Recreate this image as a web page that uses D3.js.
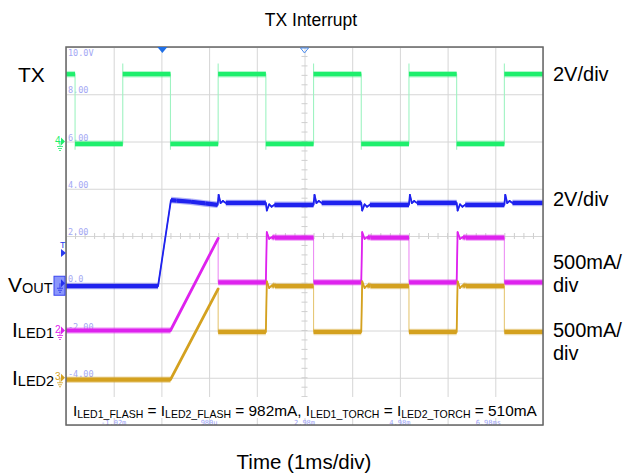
<!DOCTYPE html>
<html>
<head>
<meta charset="utf-8">
<script src="https://cdn.jsdelivr.net/npm/d3@7/dist/d3.min.js"></script>
<style>
  body { margin: 0; background: #fff; }
  text { font-family: "Liberation Sans", Arial, sans-serif; }
  .lvl { font-family: "DejaVu Sans Mono", monospace; }
</style>
</head>
<body>
<div id="chart"></div>
<script>
/* CONSTANTS AND GLOBALS */
const width = 628,
  height = 473,
  margin = {top: 47, bottom: 48, left: 66, right: 85};

// time axis of the scope, ms (10 div x 1ms)
const timeDomain = [-2.02, 7.98];
const gridTimes = [-2.02, -1.02, -0.02, 0.98, 1.98, 2.98, 3.98, 4.98, 5.98, 6.98, 7.98];
const timeLabels = ["-1.02m", "980u", "2.98m", "4.98m", "6.98ms"];
const timeLabelAt = [-1.02, 0.98, 2.98, 4.98, 6.98];

// vertical screen scale as printed on the scope (2 units / div)
const levelDomain = [-6, 10];
const gridLevels = [-6, -4, -2, 0, 2, 4, 6, 8, 10];
const levelLabels = ["-4.00", "-2.00", "0.0", "2.00", "4.00", "6.00", "8.00", "10.0V"];
const levelLabelAt = [-4, -2, 0, 2, 4, 6, 8, 10];

// TX (V), ch4
const txData = [
  [-2.02, 2.85], [-1.83, 2.85], [-1.83, -0.35], [-1.83, -0.1],
  [-0.83, -0.1], [-0.83, 3.3], [-0.83, 2.85],
  [0.17, 2.85], [0.17, -0.35], [0.17, -0.1],
  [1.17, -0.1], [1.17, 3.3], [1.17, 2.85],
  [2.17, 2.85], [2.17, -0.35], [2.17, -0.1],
  [3.17, -0.1], [3.17, 3.3], [3.17, 2.85],
  [4.17, 2.85], [4.17, -0.35], [4.17, -0.1],
  [5.17, -0.1], [5.17, 3.3], [5.17, 2.85],
  [6.17, 2.85], [6.17, -0.35], [6.17, -0.1],
  [7.17, -0.1], [7.17, 3.3], [7.17, 2.85],
  [7.98, 2.85]
];

// VOUT (V), ch1
const voutData = [
  [-2.02, -0.12], [-0.09, -0.12], [0.18, 3.52], [0.30, 3.50], [0.60, 3.45], [0.90, 3.38], [1.16, 3.32],
  [1.18, 3.74], [1.22, 3.40], [1.27, 3.48], [1.33, 3.40], [2.17, 3.40],
  [2.19, 3.08], [2.24, 3.34], [2.29, 3.24], [2.35, 3.32], [3.17, 3.32],
  [3.19, 3.74], [3.23, 3.40], [3.28, 3.48], [3.34, 3.40], [4.17, 3.40],
  [4.19, 3.08], [4.24, 3.34], [4.29, 3.24], [4.35, 3.32], [5.17, 3.32],
  [5.19, 3.74], [5.23, 3.40], [5.28, 3.48], [5.34, 3.40], [6.17, 3.40],
  [6.19, 3.08], [6.24, 3.34], [6.29, 3.24], [6.35, 3.32], [7.17, 3.32],
  [7.19, 3.74], [7.23, 3.40], [7.28, 3.48], [7.34, 3.40], [7.98, 3.40]
];

// ILED1 (A), ch2
const iled1Data = [
  [-2.02, 0.0], [0.17, 0.0], [1.17, 0.975], [1.17, 0.51],
  [2.17, 0.51], [2.19, 1.04], [2.24, 0.97], [2.30, 0.99], [2.36, 0.982], [3.17, 0.982], [3.17, 0.51],
  [4.17, 0.51], [4.19, 1.04], [4.24, 0.97], [4.30, 0.99], [4.36, 0.982], [5.17, 0.982], [5.17, 0.51],
  [6.17, 0.51], [6.19, 1.04], [6.24, 0.97], [6.30, 0.99], [6.36, 0.982], [7.17, 0.982], [7.17, 0.51],
  [7.98, 0.51]
];

// ILED2 (A), ch3
const iled2Data = [
  [-2.02, -0.02], [0.17, -0.02], [1.17, 0.94], [1.17, 0.485],
  [2.17, 0.485], [2.19, 1.02], [2.24, 0.95], [2.30, 0.98], [2.36, 0.97], [3.17, 0.97], [3.17, 0.485],
  [4.17, 0.485], [4.19, 1.02], [4.24, 0.95], [4.30, 0.98], [4.36, 0.97], [5.17, 0.97], [5.17, 0.485],
  [6.17, 0.485], [6.19, 1.02], [6.24, 0.95], [6.30, 0.98], [6.36, 0.97], [7.17, 0.97], [7.17, 0.485],
  [7.98, 0.485]
];

const channels = [
  {id: 4, data: txData, gnd: 6, perDiv: 2, color: "#1eef6c", edge: "#9ff3c2"},
  {id: 1, data: voutData, gnd: 0, perDiv: 2, color: "#1f22ee", edge: "#6f74f4"},
  {id: 2, data: iled1Data, gnd: -2, perDiv: 0.5, color: "#de22ee", edge: "#ec8ff4"},
  {id: 3, data: iled2Data, gnd: -4, perDiv: 0.5, color: "#d4a11f", edge: "#e6c877"}
];

const rightLabels = [
  {lines: ["2V/div"], y: 81},
  {lines: ["2V/div"], y: 206},
  {lines: ["500mA/", "div"], y: 269},
  {lines: ["500mA/", "div"], y: 337}
];

/* SCALES */
const xScale = d3.scaleLinear()
  .domain(timeDomain)
  .range([margin.left, width - margin.right]);

const yScale = d3.scaleLinear()
  .domain(levelDomain)
  .range([height - margin.bottom, margin.top]);

const plotW = width - margin.left - margin.right,
  plotH = height - margin.top - margin.bottom;

const svg = d3.select("#chart")
  .append("svg")
  .attr("width", width)
  .attr("height", height);

svg.append("defs").append("clipPath").attr("id", "plot")
  .append("rect")
  .attr("x", margin.left).attr("y", margin.top)
  .attr("width", plotW).attr("height", plotH);

// GRID
const xGrid = svg.append("g")
  .attr("transform", `translate(0, ${height - margin.bottom})`)
  .call(d3.axisBottom(xScale).tickValues(gridTimes).tickSize(-plotH).tickFormat(""));
const yGrid = svg.append("g")
  .attr("transform", `translate(${margin.left}, 0)`)
  .call(d3.axisLeft(yScale).tickValues(gridLevels).tickSize(-plotW).tickFormat(""));
[xGrid, yGrid].forEach(g => {
  g.select(".domain").remove();
  g.selectAll(".tick line").attr("stroke", "#d6d6d6");
});

// minor ticks on the centre lines
const xMid = xScale(2.98), yMid = yScale(2);
const minorX = d3.range(1, 50).map(i => margin.left + i * plotW / 50);
const minorY = d3.range(1, 40).map(i => margin.top + i * plotH / 40);
svg.append("g").selectAll("line").data(minorX).join("line")
  .attr("x1", d => d).attr("x2", d => d)
  .attr("y1", yMid - 3).attr("y2", yMid + 3)
  .attr("stroke", "#cfcfcf");
svg.append("g").selectAll("line").data(minorY).join("line")
  .attr("y1", d => d).attr("y2", d => d)
  .attr("x1", xMid - 3).attr("x2", xMid + 3)
  .attr("stroke", "#cfcfcf");

// level labels inside plot
svg.append("g").selectAll("text")
  .data(levelLabels)
  .join("text")
  .attr("class", "lvl")
  .attr("x", margin.left + 2)
  .attr("y", (d, i) => levelLabelAt[i] === 10 ? yScale(10) + 9 : yScale(levelLabelAt[i]) - 1)
  .attr("font-size", 8.5)
  .attr("fill", "#a4a8f4")
  .text(d => d);

/* TRACES */
const traces = svg.append("g").attr("clip-path", "url(#plot)");

channels.forEach(ch => {
  const lvl = v => ch.gnd + v / ch.perDiv * 2;
  const lineGen = d3.line()
    .x(d => xScale(d[0]))
    .y(d => yScale(lvl(d[1])));

  // thin edges
  traces.append("path")
    .attr("d", lineGen(ch.data))
    .attr("fill", "none")
    .attr("stroke", ch.edge)
    .attr("stroke-width", 1.1);

  // thick level parts
  const segs = d3.pairs(ch.data).filter(([p, q]) => xScale(q[0]) - xScale(p[0]) > 0.5);
  const g = traces.append("g");
  segs.forEach(([p, q]) => {
    const dx = xScale(q[0]) - xScale(p[0]);
    const dy = yScale(lvl(q[1])) - yScale(lvl(p[1]));
    const flat = Math.abs(dy / dx) < 0.6;
    const ramp = dx > 20;
    if (flat) {
      g.append("path")
        .attr("d", lineGen([p, q]))
        .attr("stroke", ch.color)
        .attr("stroke-opacity", 0.35)
        .attr("stroke-width", 6.5);
    }
    g.append("path")
      .attr("d", lineGen([p, q]))
      .attr("stroke", ch.color)
      .attr("stroke-linecap", flat ? "butt" : "round")
      .attr("stroke-width", flat ? 4.2 : (ramp ? 2.8 : 1.8));
  });
});

// annotation box + bottom time labels
svg.append("rect")
  .attr("x", 70).attr("y", 397)
  .attr("width", 469).attr("height", 21)
  .attr("fill", "#fff");

svg.append("g").selectAll("text")
  .data(timeLabels)
  .join("text")
  .attr("class", "lvl")
  .attr("x", (d, i) => xScale(timeLabelAt[i]) - (i === 4 ? 7 : 0))
  .attr("y", height - margin.bottom)
  .attr("text-anchor", "middle")
  .attr("font-size", 7)
  .attr("fill", "#9ca2f6")
  .text(d => d);

// frame
svg.append("rect")
  .attr("x", margin.left).attr("y", margin.top)
  .attr("width", plotW).attr("height", plotH)
  .attr("fill", "none")
  .attr("stroke", "#666")
  .attr("stroke-width", 1.5);

// trigger markers on top
const tx0 = xScale(0);
svg.append("path")
  .attr("d", `M${tx0 - 5},${margin.top} L${tx0 + 5},${margin.top} L${tx0},${margin.top + 6}Z`)
  .attr("fill", "#1f6fe6");
svg.append("path")
  .attr("d", `M${xMid - 4},${margin.top + 1} L${xMid + 4},${margin.top + 1} L${xMid},${margin.top + 6}Z`)
  .attr("fill", "none").attr("stroke", "#4a8cf0");

// channel ground markers
channels.forEach(ch => {
  const y = yScale(ch.gnd);
  const m = svg.append("g").attr("transform", `translate(${margin.left}, ${y})`);
  if (ch.id === 1) {
    m.append("rect").attr("x", -12).attr("y", -7).attr("width", 11).attr("height", 19)
      .attr("fill", "#8a96fb").attr("stroke", "#3b46f0");
  } else {
    m.append("text").attr("x", -11).attr("y", 2).attr("font-size", 10)
      .attr("fill", ch.color).text(ch.id);
  }
  m.append("path").attr("d", "M-5,-4 L-5,4 L-1,0Z").attr("fill", ch.id === 1 ? "#2430ee" : ch.color);
  m.append("path")
    .attr("d", "M-6,0 L-6,5 M-9,5 L-3,5 M-8,7 L-4,7 M-7,9 L-5,9")
    .attr("stroke", ch.id === 1 ? "#2430ee" : ch.color).attr("stroke-width", 0.8).attr("fill", "none");
});
svg.append("text").attr("x", 60).attr("y", 248).attr("font-size", 9).attr("fill", "#2a3cf0").text("T");
svg.append("path").attr("d", "M61,249 L61,257 L66,253Z").attr("fill", "#2a3cf0");

/* LABELS */
svg.append("text")
  .attr("x", 311).attr("y", 26)
  .attr("text-anchor", "middle")
  .attr("font-size", 17.5)
  .text("TX Interrupt");

svg.append("text")
  .attr("x", 304).attr("y", 469)
  .attr("text-anchor", "middle")
  .attr("font-size", 20.5)
  .text("Time (1ms/div)");

rightLabels.forEach(r => {
  r.lines.forEach((line, i) => {
    svg.append("text")
      .attr("x", 553).attr("y", r.y + i * 23)
      .attr("font-size", 20)
      .text(line);
  });
});

const leftLabels = [
  {main: "TX", sub: "", x: 18, y: 82},
  {main: "V", sub: "OUT", x: 8, y: 292},
  {main: "I", sub: "LED1", x: 12, y: 337},
  {main: "I", sub: "LED2", x: 12, y: 385}
];
leftLabels.forEach(l => {
  const t = svg.append("text").attr("x", l.x).attr("y", l.y).attr("font-size", 21);
  t.append("tspan").text(l.main);
  if (l.sub) t.append("tspan").attr("font-size", 14.5).attr("dy", 1).text(l.sub);
});

// currents annotation
const note = [
  ["I", "LED1_FLASH"], [" = I", "LED2_FLASH"], [" = 982mA, I", "LED1_TORCH"], [" = I", "LED2_TORCH"], [" = 510mA", ""]
];
const nt = svg.append("text").attr("x", 73).attr("y", 415.5).attr("font-size", 15.4);
let shifted = false;
note.forEach(([a, b]) => {
  nt.append("tspan").attr("dy", shifted ? -2.2 : 0).text(a);
  shifted = false;
  if (b) {
    nt.append("tspan").attr("font-size", 10.5).attr("dy", 2.2).text(b);
    shifted = true;
  }
});
</script>
</body>
</html>
